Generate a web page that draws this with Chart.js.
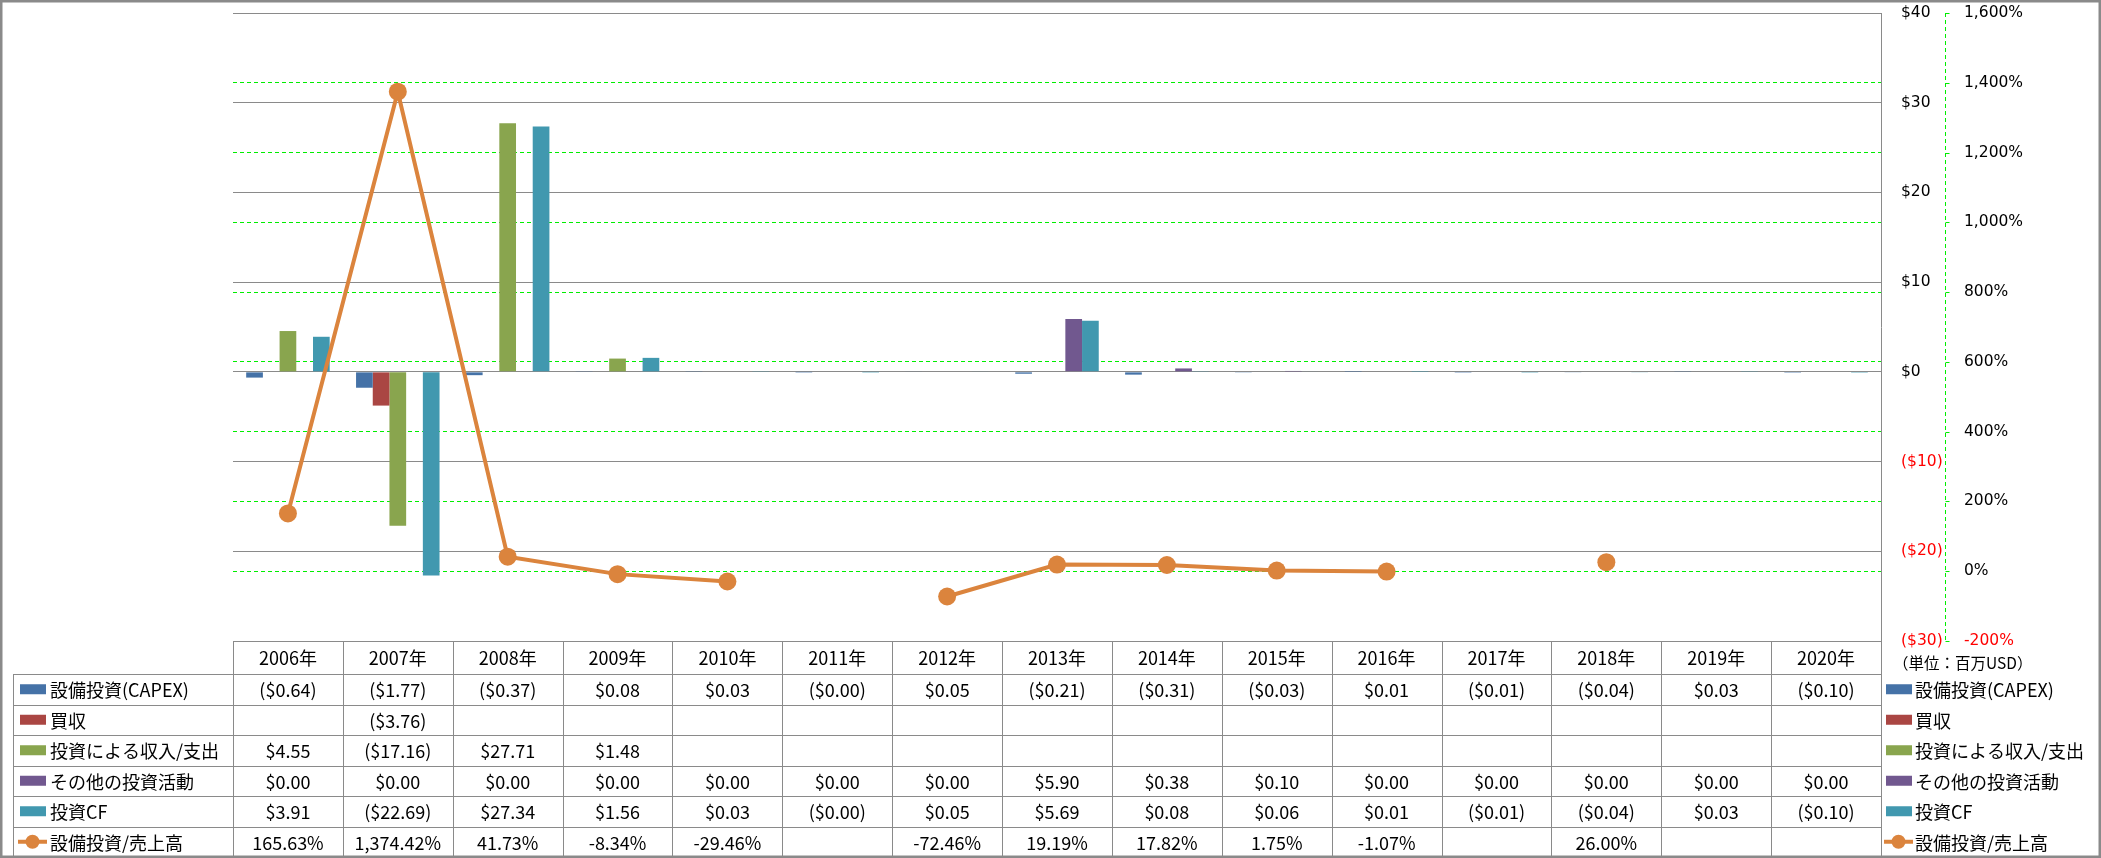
<!DOCTYPE html>
<html>
<head>
<meta charset="utf-8">
<script src="https://cdn.jsdelivr.net/npm/chart.js@4.4.1/dist/chart.umd.min.js"></script>
<style>
  html, body { margin: 0; padding: 0; background: #ffffff; }
  #wrap { width: 2101px; height: 858px; position: relative; }
  canvas { display: block; }
</style>
</head>
<body>
<div id="wrap"><canvas id="c" width="2101" height="858"></canvas></div>
<script>
// ---- Data ----
const categories = ['2006年','2007年','2008年','2009年','2010年','2011年','2012年','2013年','2014年','2015年','2016年','2017年','2018年','2019年','2020年'];
const seriesNames = ['設備投資(CAPEX)','買収','投資による収入/支出','その他の投資活動','投資CF','設備投資/売上高'];
const capex       = [-0.64, -1.77, -0.37, 0.08, 0.03, -0.001, 0.05, -0.21, -0.31, -0.03, 0.01, -0.01, -0.04, 0.03, -0.10];
const acquisition = [null, -3.76, null, null, null, null, null, null, null, null, null, null, null, null, null];
const invIncome   = [4.55, -17.16, 27.71, 1.48, null, null, null, null, null, null, null, null, null, null, null];
const otherInv    = [0.00, 0.00, 0.00, 0.00, 0.00, 0.00, 0.00, 5.90, 0.38, 0.10, 0.00, 0.00, 0.00, 0.00, 0.00];
const investCF    = [3.91, -22.69, 27.34, 1.56, 0.03, -0.001, 0.05, 5.69, 0.08, 0.06, 0.01, -0.01, -0.04, 0.03, -0.10];
const capexRatio  = [165.63, 1374.42, 41.73, -8.34, -29.46, null, -72.46, 19.19, 17.82, 1.75, -1.07, null, 26.00, null, null];
const unitLabel = '（単位：百万USD）';

// ---- Styling ----
const colors = ['#4572A7', '#AA4643', '#89A54E', '#71588F', '#4198AF', '#DB843D'];
const tableFont = '18px "Noto Sans CJK JP", "Noto Sans", sans-serif';
const axisFontFamily = '"DejaVu Sans", Verdana, sans-serif';
const lineGray = '#8a8a8a';
const green = '#00EE00';

function fmtMoney(v) {
  if (v === null || v === undefined) return '';
  const s = '$' + Math.abs(v).toFixed(2);
  return v < 0 ? '(' + s + ')' : s;
}
function fmtPct(v) {
  if (v === null || v === undefined) return '';
  return v.toLocaleString('en-US', {minimumFractionDigits: 2, maximumFractionDigits: 2}) + '%';
}

const tableRows = [
  {name: seriesNames[0], vals: capex, fmt: fmtMoney, color: colors[0], type: 'bar'},
  {name: seriesNames[1], vals: acquisition, fmt: fmtMoney, color: colors[1], type: 'bar'},
  {name: seriesNames[2], vals: invIncome, fmt: fmtMoney, color: colors[2], type: 'bar'},
  {name: seriesNames[3], vals: otherInv, fmt: fmtMoney, color: colors[3], type: 'bar'},
  {name: seriesNames[4], vals: investCF, fmt: fmtMoney, color: colors[4], type: 'bar'},
  {name: seriesNames[5], vals: capexRatio, fmt: fmtPct, color: colors[5], type: 'line'}
];

function drawLegendKey(ctx, row, x, cy) {
  if (row.type === 'bar') {
    ctx.fillStyle = row.color;
    ctx.fillRect(x, cy - 5, 26, 10);
  } else {
    ctx.strokeStyle = row.color;
    ctx.lineWidth = 4;
    ctx.beginPath();
    ctx.moveTo(x - 2, cy);
    ctx.lineTo(x + 27, cy);
    ctx.stroke();
    ctx.fillStyle = row.color;
    ctx.beginPath();
    ctx.arc(x + 12.5, cy, 7, 0, Math.PI * 2);
    ctx.fill();
  }
}

const tablePlugin = {
  id: 'dataTable',
  afterDraw(chart) {
    const ctx = chart.ctx;
    const area = chart.chartArea;
    const xs = chart.scales.x;
    const y2 = chart.scales.y2;
    const n = categories.length;
    const colW = (area.right - area.left) / n;
    const bounds = [];
    for (let i = 0; i <= n; i++) bounds.push(Math.round(area.left + i * colW));
    const top = Math.round(area.bottom);
    const headH = 33;
    const rowH = 30.5;
    const legendLeft = 13;
    const bottom = Math.round(top + headH + rowH * tableRows.length);

    ctx.save();
    // dashed secondary axis line with small tick marks
    const ax = Math.round(y2.left) + 0.5;
    ctx.strokeStyle = green;
    ctx.lineWidth = 1;
    ctx.setLineDash([4, 3]);
    ctx.beginPath();
    ctx.moveTo(ax, area.top);
    ctx.lineTo(ax, area.bottom);
    ctx.stroke();
    ctx.setLineDash([]);
    ctx.beginPath();
    y2.ticks.forEach(t => {
      const ty = Math.round(y2.getPixelForValue(t.value)) + 0.5;
      ctx.moveTo(ax, ty);
      ctx.lineTo(ax + 4, ty);
    });
    ctx.stroke();

    // table grid lines
    ctx.strokeStyle = lineGray;
    ctx.lineWidth = 1;
    ctx.beginPath();
    ctx.moveTo(bounds[0], top + 0.5); ctx.lineTo(bounds[n], top + 0.5);
    for (let r = 0; r <= tableRows.length; r++) {
      const yy = Math.round(top + headH + r * rowH) + 0.5;
      ctx.moveTo(legendLeft, yy); ctx.lineTo(bounds[n], yy);
    }
    for (let i = 0; i <= n; i++) {
      ctx.moveTo(bounds[i] + 0.5, top); ctx.lineTo(bounds[i] + 0.5, bottom);
    }
    ctx.moveTo(legendLeft + 0.5, top + headH); ctx.lineTo(legendLeft + 0.5, bottom);
    ctx.stroke();

    // header text
    ctx.fillStyle = '#000';
    ctx.font = tableFont;
    ctx.textBaseline = 'middle';
    ctx.textAlign = 'center';
    for (let i = 0; i < n; i++) {
      ctx.fillText(categories[i], xs.getPixelForValue(i), top + headH / 2 + 1);
    }
    // rows
    tableRows.forEach((row, r) => {
      const cy = top + headH + r * rowH + rowH / 2;
      ctx.textAlign = 'center';
      ctx.fillStyle = '#000';
      ctx.font = tableFont;
      for (let i = 0; i < n; i++) {
        const t = row.fmt(row.vals[i]);
        if (t) ctx.fillText(t, xs.getPixelForValue(i), cy + 1);
      }
      // left legend
      drawLegendKey(ctx, row, 20, cy);
      ctx.fillStyle = '#000';
      ctx.textAlign = 'left';
      ctx.font = tableFont;
      ctx.fillText(row.name, 50, cy + 1);
      // right legend
      drawLegendKey(ctx, row, area.right + 5, cy);
      ctx.fillStyle = '#000';
      ctx.font = tableFont;
      ctx.fillText(row.name, area.right + 34, cy + 1);
    });

    // unit label
    ctx.fillStyle = '#000';
    ctx.font = '15.5px "Noto Sans CJK JP", sans-serif';
    ctx.textAlign = 'left';
    ctx.fillText(unitLabel, area.right + 12, top + 22);

    // outer chart border
    ctx.strokeStyle = lineGray;
    ctx.strokeRect(0.5, 0.5, chart.width - 1, chart.height - 1);
    ctx.restore();
  }
};

function build() {
  const barDatasets = [capex, acquisition, invIncome, otherInv, investCF].map((vals, i) => ({
    type: 'bar',
    label: seriesNames[i],
    data: vals,
    backgroundColor: colors[i],
    borderWidth: 0,
    yAxisID: 'y',
    categoryPercentage: 0.76,
    barPercentage: 1.0,
    order: 1
  }));
  const lineDataset = {
    type: 'line',
    label: seriesNames[5],
    data: capexRatio,
    borderColor: colors[5],
    backgroundColor: colors[5],
    borderWidth: 4,
    pointRadius: 9,
    pointHoverRadius: 9,
    pointBorderWidth: 0,
    pointBackgroundColor: colors[5],
    spanGaps: false,
    fill: false,
    tension: 0,
    yAxisID: 'y2',
    order: 0
  };

  new Chart(document.getElementById('c'), {
    type: 'bar',
    data: { labels: categories, datasets: [...barDatasets, lineDataset] },
    options: {
      responsive: false,
      animation: false,
      devicePixelRatio: 1,
      layout: { padding: { left: 233, top: 13, right: 0, bottom: 217 } },
      plugins: { legend: { display: false }, tooltip: { enabled: false } },
      scales: {
        x: { type: 'category', display: false, offset: true, grid: { display: false }, border: { display: false } },
        y: {
          type: 'linear',
          position: 'right',
          min: -30, max: 40,
          afterFit: s => { s.width = 64; },
          ticks: {
            stepSize: 10,
            padding: 0,
            font: { family: axisFontFamily, size: 15.5 },
            color: c => (c.tick && c.tick.value < 0 ? '#FF0000' : '#000000'),
            callback: v => (v < 0 ? '($' + (-v) + ')' : '$' + v)
          },
          grid: { color: lineGray, lineWidth: 1, drawTicks: true, tickLength: 20, tickColor: 'rgba(0,0,0,0)', drawOnChartArea: true },
          border: { display: true, color: lineGray, width: 1 }
        },
        y2: {
          type: 'linear',
          position: 'right',
          min: -200, max: 1600,
          afterFit: s => { s.width = 156; },
          ticks: {
            stepSize: 200,
            padding: 0,
            font: { family: axisFontFamily, size: 15.5 },
            color: c => (c.tick && c.tick.value < 0 ? '#FF0000' : '#000000'),
            callback: v => v.toLocaleString('en-US') + '%'
          },
          grid: {
            color: c => (c.tick && (c.tick.value === 1600 || c.tick.value === -200) ? 'rgba(0,0,0,0)' : green),
            lineWidth: 1, drawTicks: true, tickLength: 19,
            tickColor: 'rgba(0,0,0,0)', drawOnChartArea: true
          },
          border: { display: false, dash: [4, 3] }
        }
      }
    },
    plugins: [tablePlugin]
  });
}

const fontLoads = [
  '18px "Noto Sans CJK JP"', '15px "Noto Sans CJK JP"', '16px "DejaVu Sans"'
].map(f => (document.fonts && document.fonts.load ? document.fonts.load(f).catch(() => null) : Promise.resolve()));
Promise.all(fontLoads).then(build, build);
</script>
</body>
</html>
